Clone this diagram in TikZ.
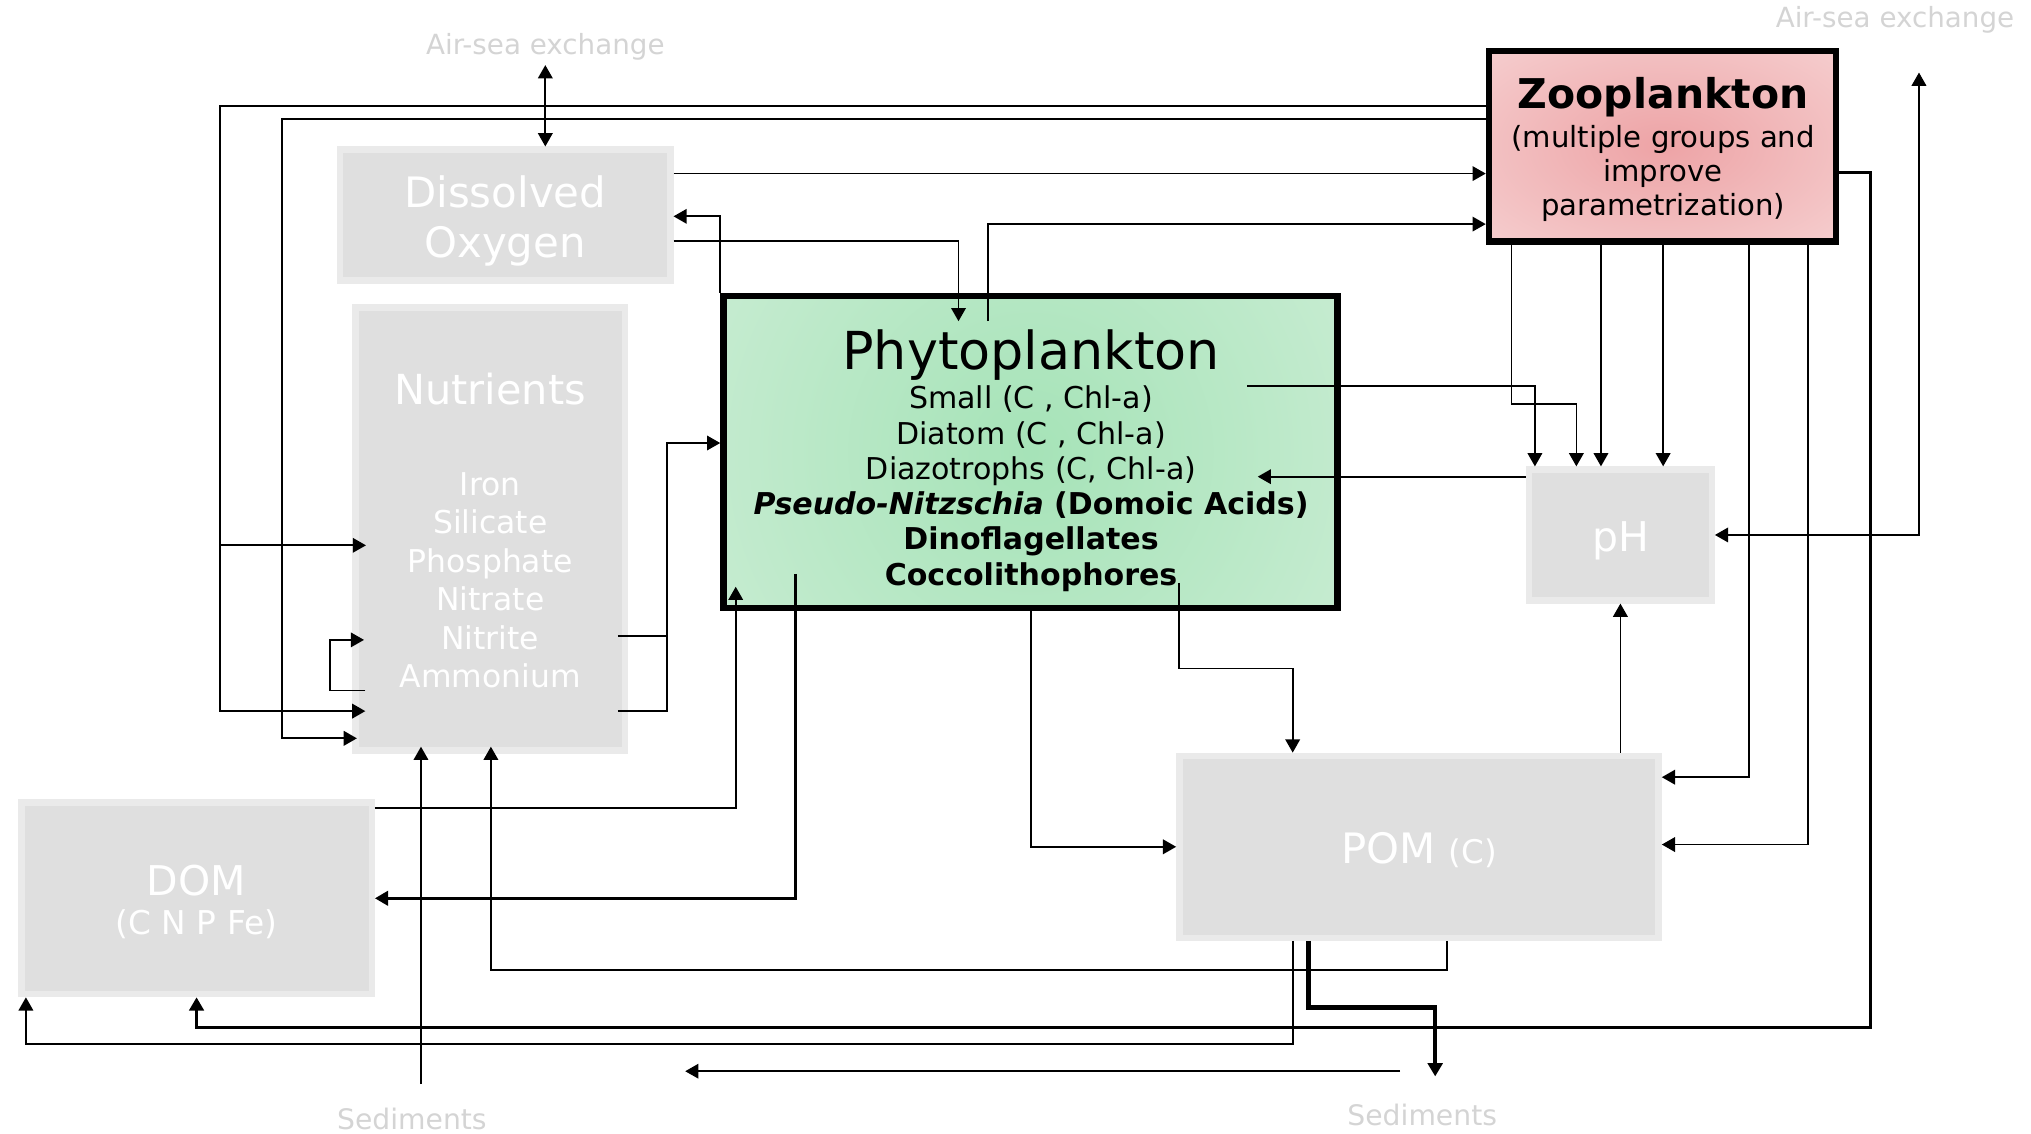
\documentclass[tikz,border=0pt]{standalone}
\usepackage{fontspec}
\setmainfont{DejaVu Sans}
\usetikzlibrary{arrows.meta}

\definecolor{poolfill}{HTML}{DFDFDF}
\definecolor{poolrim}{HTML}{EAEAEA}
\definecolor{faint}{HTML}{D4D4D4}
\pgfdeclareradialshading{phyglow}{\pgfpoint{0bp}{0bp}}{rgb(0bp)=(0.65,0.89,0.72);rgb(35bp)=(0.87,0.95,0.89);rgb(50bp)=(0.87,0.95,0.89)}
\pgfdeclareradialshading{zooglow}{\pgfpoint{0bp}{0bp}}{rgb(0bp)=(0.93,0.64,0.65);rgb(35bp)=(0.975,0.875,0.875);rgb(50bp)=(0.975,0.875,0.875)}

\tikzset{
  pool/.style={draw=poolrim, fill=poolfill, line width=2.8pt, inner sep=0pt},
  tank/.style={draw=black, line width=2.8pt, inner sep=0pt},
  pooltext/.style={text=white, align=center, inner sep=0pt},
  tanktext/.style={text=black, align=center, inner sep=0pt},
  faintlabel/.style={text=faint, font=\fontsize{12.2}{14}\selectfont, inner sep=2pt},
  link/.style={line width=0.75pt},
  sink/.style={shorten >=-#1},
}

\begin{document}
\begin{tikzpicture}[x=0.2mm,y=-0.2mm,>={Triangle[length=5.8pt,width=6.4pt]}]
\useasboundingbox (0,0) rectangle (1568,875);
% stocks
\node[pool, minimum width=51mm, minimum height=20.2mm] (do) at (390,166) {};
\node[pool, minimum width=41.6mm, minimum height=68.4mm] (nut) at (378.5,408.5) {};
\node[pool, minimum width=28.2mm, minimum height=20.2mm] (ph) at (1251,413) {};
\node[pool, minimum width=74mm, minimum height=28.1mm] (pom) at (1095.5,653.75) {};
\node[pool, minimum width=54.1mm, minimum height=29.6mm] (dom) at (151.75,693.5) {};
\node[tank, minimum width=94.8mm, minimum height=48.2mm,
  path picture={\shade[shading=phyglow] (path picture bounding box.center) circle [radius=67.7mm];}] (phy) at (795.5,349) {};
\node[tank, minimum width=53.6mm, minimum height=29.4mm,
  path picture={\shade[shading=zooglow] (path picture bounding box.center) ellipse [x radius=39mm, y radius=21.5mm];}] (zoo) at (1283.5,113) {};

\node[pooltext, font=\fontsize{18.4}{22}\selectfont] (doname) at (390,170.5) {Dissolved\\Oxygen};
\node[pooltext, font=\fontsize{13.8}{16.9}\selectfont] (nutname) at (378.5,409.5) {{\fontsize{18.2}{22}\selectfont Nutrients}\\[23pt]Iron\\Silicate\\Phosphate\\Nitrate\\Nitrite\\Ammonium};
\node[pooltext, font=\fontsize{18}{22}\selectfont] (phname) at (1251,417.8) {pH};
\node[pooltext, font=\fontsize{18.4}{22}\selectfont] (pomname) at (1095.5,656.5) {POM {\fontsize{14.3}{17}\selectfont(C)}};
\node[pooltext, font=\fontsize{14.4}{17.2}\selectfont] (domname) at (151.75,696) {{\fontsize{18}{21}\selectfont DOM}\\(C N P Fe)};
\node[tanktext, font=\fontsize{13.2}{15.5}\selectfont] (phyname) at (796,355.5) {{\fontsize{23}{27}\selectfont Phytoplankton}\\[1.9pt]Small (C , Chl-a)\\Diatom (C , Chl-a)\\Diazotrophs (C, Chl-a)\\\textbf{\textit{Pseudo-Nitzschia} (Domoic Acids)}\\\textbf{Dinoflagellates}\\\textbf{Coccolithophores}};
\node[tanktext, font=\fontsize{12.8}{15.1}\selectfont] (zooname) at (1284,115.7) {{\fontsize{18}{21}\selectfont\bfseries Zooplankton}\\[1.7pt](multiple groups and\\improve\\parametrization)};

\node[faintlabel] (airdo) at (421,36) {Air-sea exchange};
\node[faintlabel] (airph) at (1463,15.5) {Air-sea exchange};
\node[faintlabel, font=\fontsize{12.4}{14}\selectfont] (sedl) at (318,863.6) {Sediments};
\node[faintlabel, font=\fontsize{12.4}{14}\selectfont] (sedr) at (1098,861) {Sediments};

% free ends
\coordinate (phyin) at (740,248);
\coordinate (phyout) at (763,248);
\coordinate (phyph) at (963,298);
\coordinate (phyback) at (971,368);
\coordinate (phyloss) at (910,450);
\coordinate (phyup) at (568,453);
\coordinate (phydown) at (614,443);
\coordinate (airtip) at (1481.5,56);
\coordinate (sedfoot) at (325,837);
\coordinate (sedsink) at (1108,831);
\coordinate (sedrun) at (1081,827);
\coordinate (sedend) at (529,827);

% fluxes
\draw[link, <->] (airdo.south) -- (airdo.south |- do.north);
\draw[link, ->, sink=2mm, line width=0.9pt] (zoo.west |- 0,82) -- (170,82) -- (170,549) -- (nut.west |- 0,549);
\draw[link, ->, sink=2.1mm] (170,421) -- (nut.west |- 0,421);
\draw[link, ->, sink=0.7mm, line width=0.9pt] (zoo.west |- 0,92) -- (218,92) -- (218,570) -- (nut.west |- 0,570);
\draw[link, ->, sink=1.8mm, shorten <=-2mm] (nut.west |- 0,533) -- (255,533) |- (nut.west |- 0,494);
\draw[link, ->] (do.east |- 0,134) -- (zoo.west |- 0,134);
\draw[link, ->] (phy.north west) -- (phy.north west |- 0,167) -- (do.east |- 0,167);
\draw[link, ->] (do.east |- 0,186) -| (phyin);
\draw[link, ->] (phyout) |- (zoo.west |- 0,173);
\draw[link, ->, shorten <=-1.6mm] (nut.east |- 0,491) -- (515,491) |- (phy.west |- 0,342);
\draw[link, shorten <=-1.6mm] (nut.east |- 0,549) -| (515,491);
\draw[link, ->] (phyph) -| (ph.north -| 1185,0);
\draw[link, ->] (zoo.south -| 1167,0) -- (1167,312) -| (ph.north -| 1217,0);
\draw[link, ->] (zoo.south -| 1236,0) -- (ph.north -| 1236,0);
\draw[link, ->] (zoo.south -| 1284,0) -- (ph.north -| 1284,0);
\draw[link, ->] (zoo.south -| 1350,0) |- (pom.east |- 0,600);
\draw[link, ->] (zoo.south -| 1396,0) |- (pom.east |- 0,652);
\draw[link, ->, line width=1.2pt] (zoo.east |- 0,133) -- (1444,133) |- (dom.south |- 0,793) -- (dom.south);
\draw[link, <->] (ph.east |- 0,413) -| (airtip);
\draw[link, ->] (ph.west |- 0,368) -- (phyback);
\draw[link, ->] (pom.north -| ph.south) -- (ph.south);
\draw[link, ->] (phyloss) -- (910,516) -| (pom.north -| 998,0);
\draw[link, ->] (phy.south -| 796,0) |- (pom.west);
\draw[link, ->] (dom.east |- 0,624) -| (phyup);
\draw[link, ->, line width=1.2pt] (phydown) |- (dom.east);
\draw[link, ->, sink=1.1mm] (sedfoot) -- (sedfoot |- nut.south);
\draw[link, ->, sink=1.1mm] (pom.south -| 1117,0) -- (1117,749) -| (nut.south -| 379,0);
\draw[link, ->] (pom.south -| 998,0) -- (998,806) -| (dom.south -| 20,0);
\draw[link, ->, line width=2pt] (pom.south -| 1010,0) -- (1010,778) -| (sedsink);
\draw[link, ->] (sedrun) -- (sedend);
\end{tikzpicture}
\end{document}
